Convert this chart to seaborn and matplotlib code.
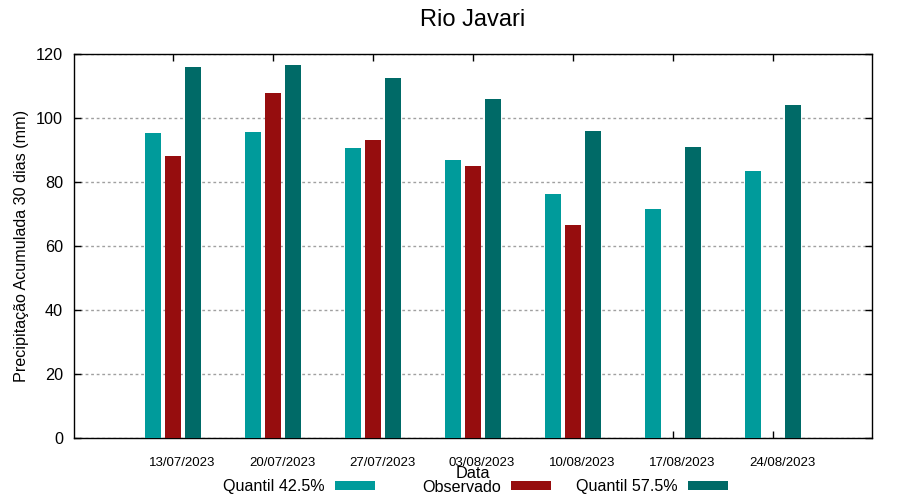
import matplotlib
matplotlib.use("Agg")
import matplotlib.pyplot as plt
import matplotlib.transforms as mtransforms
from matplotlib.patches import Patch
import numpy as np
import pandas as pd
import seaborn as sns

# ---- data ----
dates = ["13/07/2023", "20/07/2023", "27/07/2023", "03/08/2023",
         "10/08/2023", "17/08/2023", "24/08/2023"]
quantil_425 = [95.3, 95.6, 90.6, 86.9, 76.2, 71.6, 83.4]
observado = [88.1, 107.8, 93.1, 85.0, 66.6, np.nan, np.nan]
quantil_575 = [115.9, 116.6, 112.5, 105.9, 95.9, 90.9, 104.1]
series_names = ["Quantil 42.5%", "Observado", "Quantil 57.5%"]
series_colors = ["#009b9b", "#960d0e", "#006a67"]

title = "Rio Javari"
ylabel = "Precipitação Acumulada 30 dias (mm)"
xlabel = "Data"

df = pd.DataFrame({
    "Data": dates * 3,
    "valor": quantil_425 + observado + quantil_575,
    "serie": [series_names[0]] * 7 + [series_names[1]] * 7 + [series_names[2]] * 7,
})

sns.set_theme(style="white")
plt.rcParams["font.family"] = ["Liberation Sans", "DejaVu Sans"]

fig = plt.figure(figsize=(9, 5), dpi=100)
ax = fig.add_axes([74 / 900, 1 - 438 / 500, 798 / 900, 384 / 500])

palette = dict(zip(series_names, series_colors))
sns.barplot(data=df, x="Data", y="valor", hue="serie", hue_order=series_names,
            palette=palette, width=0.6, gap=0.2, dodge=True, saturation=1,
            legend=False, ax=ax, zorder=3, linewidth=0, edgecolor="none")

ax.set_xlim(-0.99, 6.99)
ax.set_ylim(0, 120)
ax.set_yticks(np.arange(0, 121, 20))
ax.set_xticks(range(len(dates)))
ax.set_xticklabels(dates)

for s in ax.spines.values():
    s.set_visible(True)
    s.set_color("black")
    s.set_linewidth(1.0)

ax.yaxis.grid(True, color="#a0a0a0", linestyle=(0, (2, 2)), linewidth=1)
ax.xaxis.grid(False)
ax.set_axisbelow(True)

ax.tick_params(axis="y", which="both", direction="in", length=5, width=1,
               color="black", left=True, right=True, labelsize=11.7, pad=8,
               labelcolor="black")
ax.tick_params(axis="x", which="both", direction="in", length=5, width=1,
               color="black", bottom=True, top=True, labelsize=9.5, pad=14,
               labelcolor="black")
offset = mtransforms.ScaledTranslation(9 / 100, 0, fig.dpi_scale_trans)
for lab in ax.get_xticklabels():
    lab.set_transform(lab.get_transform() + offset)

ax.set_ylabel(ylabel, fontsize=11.6, color="black")
ax.yaxis.set_label_coords((29 - 74) / 798, 0.5)
ax.set_xlabel(xlabel, fontsize=11.7, color="black")
ax.xaxis.label.set_va("center")
ax.xaxis.set_label_coords(0.5, (438 - 474) / 384)

fig.text(473 / 900, 1 - 20 / 500, title, ha="center", va="center",
         fontsize=17, color="black")

# legend: text right-aligned to swatch, gnuplot-style fixed columns
swatch_ends = [375, 551, 728]
fs = 11.6
fs_px = fs * 100 / 72
for name, color, xend in zip(series_names, series_colors, swatch_ends):
    fig.legend(handles=[Patch(facecolor=color, edgecolor="none")], labels=[name],
               loc="center right", bbox_to_anchor=(xend / 900, 1 - 487 / 500),
               frameon=False, markerfirst=False, borderpad=0, borderaxespad=0,
               handlelength=40 / fs_px, handleheight=0.5,
               handletextpad=10 / fs_px, fontsize=fs, labelcolor="black")

fig.savefig("out.png", dpi=100)
